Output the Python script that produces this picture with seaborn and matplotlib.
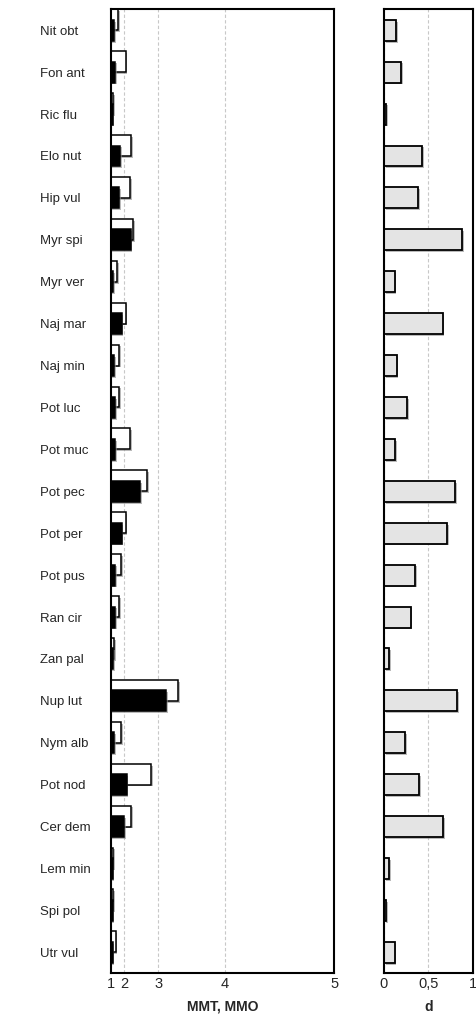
import numpy as np
import pandas as pd
import matplotlib
matplotlib.use("Agg")
import matplotlib.pyplot as plt
import matplotlib.patheffects as pe
import seaborn as sns

# Species codes, top to bottom
species = [
    "Nit obt", "Fon ant", "Ric flu", "Elo nut", "Hip vul", "Myr spi",
    "Myr ver", "Naj mar", "Naj min", "Pot luc", "Pot muc", "Pot pec",
    "Pot per", "Pot pus", "Ran cir", "Zan pal", "Nup lut", "Nym alb",
    "Pot nod", "Cer dem", "Lem min", "Spi pol", "Utr vul",
]

# MMT (open bars) and MMO (filled bars)
mmt = [1.70, 2.08, 1.30, 2.29, 2.25, 2.37, 1.59, 2.08, 1.74, 1.74, 2.25, 2.76,
       2.08, 1.86, 1.74, 1.39, 3.36, 1.86, 2.85, 2.29, 1.28, 1.25, 1.51]
mmo = [1.36, 1.45, 1.19, 1.80, 1.74, 2.27, 1.28, 1.89, 1.36, 1.45, 1.45, 2.57,
       1.89, 1.45, 1.45, 1.28, 3.15, 1.36, 2.12, 2.02, 1.19, 1.19, 1.19]

# d index
d_values = [0.135, 0.19, 0.02, 0.425, 0.387, 0.88, 0.12, 0.66, 0.143, 0.256,
            0.128, 0.80, 0.71, 0.35, 0.30, 0.06, 0.82, 0.237, 0.395, 0.665,
            0.053, 0.02, 0.12]

mm_ticks = [1, 2, 3, 4, 5]
d_ticks = [0, 0.5, 1]
d_tick_labels = ["0", "0,5", "1"]

sns.set_style("white")
plt.rcParams["font.family"] = ["Liberation Sans", "DejaVu Sans"]

W, H = 476, 1016
fig = plt.figure(figsize=(W / 100, H / 100), dpi=100)
bottom = 1 - 973.3 / H
height = 964 / H
ax1 = fig.add_axes([111.3 / W, bottom, 223 / W, height])
ax2 = fig.add_axes([384 / W, bottom, 88.7 / W, height])

pos = np.arange(len(species))
df = pd.DataFrame({
    "species": species,
    "pos": pos,
    "pos_top": pos - 0.25,
    "mmt": mmt,
    "mmo": mmo,
    "d": d_values,
})

shadow = [pe.SimplePatchShadow(offset=(1.3, -1.3), shadow_rgbFace="0.55", alpha=0.6),
          pe.Normal()]

# Left panel: open MMT bars behind, filled MMO bars in front
sns.barplot(data=df, x="mmt", y="pos_top", orient="h", native_scale=True,
            width=0.5, color="white", saturation=1, edgecolor="black",
            linewidth=1.1, errorbar=None, ax=ax1)
sns.barplot(data=df, x="mmo", y="pos", orient="h", native_scale=True,
            width=0.5, color="black", saturation=1, edgecolor="black",
            linewidth=1.1, errorbar=None, ax=ax1)
for p in ax1.patches:
    p.set_path_effects(shadow)

# Cubic axis scale for the MMT/MMO values
ax1.set_xscale("function", functions=(lambda x: np.power(x, 3), lambda x: np.cbrt(x)))
ax1.set_xlim(1, 5)
ax1.set_xticks(mm_ticks, labels=[str(t) for t in mm_ticks])
ax1.set_ylim(len(species) - 0.5, -0.5)
ax1.set_yticks(pos, labels=species)
for lab in ax1.get_yticklabels():
    lab.set_horizontalalignment("left")
ax1.tick_params(axis="y", length=0, pad=51.3, labelsize=9.5)
ax1.tick_params(axis="x", length=0, pad=3, labelsize=10.5)
ax1.set_xlabel("MMT, MMO", fontsize=10, fontweight="bold", labelpad=6)
ax1.set_ylabel("")

# Right panel: d values
sns.barplot(data=df, x="d", y="pos", orient="h", native_scale=True,
            width=0.5, color="#e4e4e4", saturation=1, edgecolor="black",
            linewidth=1.3, errorbar=None, ax=ax2)
for p in ax2.patches:
    p.set_path_effects(shadow)
ax2.set_xlim(0, 1)
ax2.set_xticks(d_ticks, labels=d_tick_labels)
ax2.set_ylim(len(species) - 0.5, -0.5)
ax2.set_yticks([])
ax2.tick_params(axis="x", length=0, pad=3, labelsize=10.5)
ax2.set_xlabel("d", fontsize=10, fontweight="bold", labelpad=6)
ax2.set_ylabel("")

for ax in (ax1, ax2):
    ax.set_axisbelow(True)
    ax.grid(axis="x", color="#c8c8c8", linestyle=(0, (3, 2)), linewidth=0.8)
    ax.grid(axis="y", visible=False)
    for s in ax.spines.values():
        s.set_visible(True)
        s.set_color("black")
        s.set_linewidth(1.5)

fig.savefig("out.png", dpi=100)
